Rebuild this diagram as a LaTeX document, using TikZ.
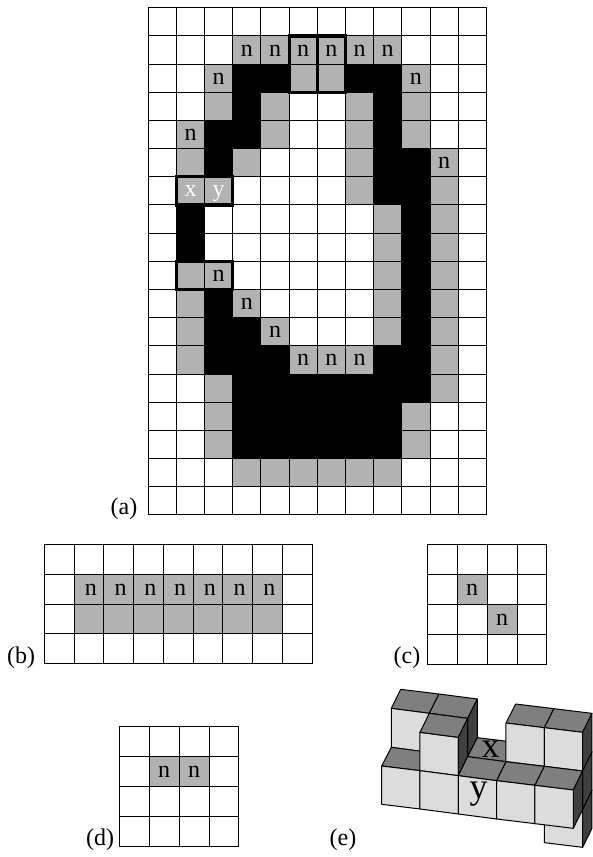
\documentclass[tikz,border=0pt]{standalone}
\usepackage{fontspec}
\setmainfont{Liberation Serif}
\definecolor{cellgray}{HTML}{B2B2B2}
\definecolor{facefront}{HTML}{DCDCDC}
\definecolor{facetop}{HTML}{7F7F7F}
\definecolor{faceside}{HTML}{404040}
\newcommand{\cellfill}[5]{% ox oy size col-row-list colour
  \foreach \c/\r in {#4}{\fill[#5] ({#1+\c*#3},{#2+\r*#3}) rectangle ++(#3,#3);}}
\newcommand{\gridlines}[5]{% ox oy size cols rows
  \foreach \i in {0,...,#4}{\draw[gridline] ({#1+\i*#3},#2) -- ({#1+\i*#3},{#2+#5*#3});}
  \foreach \j in {0,...,#5}{\draw[gridline] (#1,{#2+\j*#3}) -- ({#1+#4*#3},{#2+\j*#3});}}
\tikzset{
  gridline/.style={line width=1pt,black,line cap=rect},
  thickbox/.style={line width=3.2pt,black},
  lbl/.style={font=\fontsize{24}{24}\selectfont,inner sep=0pt,anchor=base},
  capt/.style={font=\fontsize{24}{24}\selectfont,inner sep=0pt,anchor=base},
  front/.style={fill=facefront,draw=black,line width=1pt,line join=round},
  top/.style={fill=facetop,draw=black,line width=1pt,line join=round},
  side/.style={fill=faceside,draw=black,line width=1pt,line join=round}
}
\begin{document}
\begin{tikzpicture}[x=1pt,y=-1pt]
\useasboundingbox (0,0) rectangle (592,857);
\fill[white] (0,0) rectangle (592,857);
% ---- panel (a)
\def\ax{148.3}\def\ay{7.8}\def\as{28.17}
\cellfill{\ax}{\ay}{\as}{3/1,4/1,5/1,6/1,7/1,8/1,2/2,5/2,6/2,9/2,2/3,4/3,7/3,9/3,1/4,4/4,7/4,9/4,1/5,3/5,7/5,10/5,1/6,2/6,7/6,10/6,8/7,10/7,8/8,10/8,1/9,2/9,8/9,10/9,1/10,3/10,8/10,10/10,1/11,4/11,8/11,10/11,1/12,5/12,6/12,7/12,10/12,2/13,10/13,2/14,9/14,2/15,9/15,3/16,4/16,5/16,6/16,7/16,8/16}{cellgray}
\cellfill{\ax}{\ay}{\as}{3/2,4/2,7/2,8/2,3/3,8/3,2/4,3/4,8/4,2/5,8/5,9/5,8/6,9/6,1/7,9/7,1/8,9/8,9/9,2/10,9/10,2/11,3/11,9/11,2/12,3/12,4/12,8/12,9/12,3/13,4/13,5/13,6/13,7/13,8/13,9/13,3/14,4/14,5/14,6/14,7/14,8/14,3/15,4/15,5/15,6/15,7/15,8/15}{black}
\gridlines{\ax}{\ay}{\as}{12}{18}
\foreach \c/\r/\w/\h in {5/1/1/2,6/1/1/2,1/6/2/1,1/9/2/1}{
  \draw[thickbox] ({\ax+\c*\as},{\ay+\r*\as}) rectangle ++({\w*\as},{\h*\as});}
\foreach \c/\r [count=\k] in {3/1,4/1,5/1,6/1,7/1,8/1,2/2,9/2,1/4,10/5,2/9,3/10,4/11,5/12,6/12,7/12}{
  \node[lbl] (an\k) at ({\ax+(\c+0.5)*\as},{\ay+(\r+0.5)*\as+6}) {n};}
\node[lbl,white] (ax) at ({\ax+1.5*\as},{\ay+6.5*\as+6}) {x};
\node[lbl,white] (ay) at ({\ax+2.5*\as},{\ay+6.5*\as+6}) {y};
\node[capt] (capa) at (124,514) {(a)};
% ---- panel (b)
\def\bx{44.3}\def\by{544.5}\def\bs{29.75}
\cellfill{\bx}{\by}{\bs}{1/1,2/1,3/1,4/1,5/1,6/1,7/1,1/2,2/2,3/2,4/2,5/2,6/2,7/2}{cellgray}
\gridlines{\bx}{\by}{\bs}{9}{4}
\foreach \c [count=\k] in {1,...,7}{
  \node[lbl] (bn\k) at ({\bx+(\c+0.5)*\bs+2},{\by+1.5*\bs+6}) {n};}
\node[capt] (capb) at (21,663) {(b)};
% ---- panel (c)
\def\cx{427.3}\def\cy{544.5}\def\cs{29.9}
\cellfill{\cx}{\cy}{\cs}{1/1,2/2}{cellgray}
\gridlines{\cx}{\cy}{\cs}{4}{4}
\node[lbl] (cn1) at ({\cx+1.5*\cs},{\cy+1.5*\cs+6}) {n};
\node[lbl] (cn2) at ({\cx+2.5*\cs},{\cy+2.5*\cs+6}) {n};
\node[capt] (capc) at (407,663) {(c)};
% ---- panel (d)
\def\dx{119.3}\def\dy{726.5}\def\ds{29.9}
\cellfill{\dx}{\dy}{\ds}{1/1,2/1}{cellgray}
\gridlines{\dx}{\dy}{\ds}{4}{4}
\node[lbl] (dn1) at ({\dx+1.5*\ds},{\dy+1.5*\ds+6}) {n};
\node[lbl] (dn2) at ({\dx+2.5*\ds},{\dy+1.5*\ds+6}) {n};
\node[capt] (capd) at (100,845) {(d)};
\node[capt] (cape) at (343,845) {(e)};
% ---- panel (e): coordinates are those of a 3x crop at (370,670)
\begin{scope}[shift={(370,670)},x=0.3333pt,y=-0.3333pt]
\draw[front] (523,400) -- (638,418) -- (638,532) -- (523,518) -- cycle;
\draw[side] (638,418) -- (666,360) -- (666,475) -- (638,532) -- cycle;
% back left
\draw[top] (64,115) -- (92,58) -- (207,72) -- (178,130) -- cycle;
\draw[top] (178,130) -- (207,72) -- (322,87) -- (293,145) -- cycle;
\draw[front] (64,115) -- (178,130) -- (178,248) -- (64,232) -- cycle;
\draw[side] (293,145) -- (322,87) -- (322,203) -- (293,260) -- cycle;
% back middle (x)
\draw[top] (293,260) -- (322,203) -- (437,217) -- (408,275) -- cycle;
% front row tops
\draw[top] (35,288) -- (64,232) -- (178,247) -- (150,302) -- cycle;
% tall cube
\draw[front] (150,187) -- (265,202) -- (265,317) -- (150,302) -- cycle;
\draw[top] (150,187) -- (178,130) -- (293,145) -- (265,202) -- cycle;
\draw[side] (265,202) -- (293,145) -- (293,260) -- (265,317) -- cycle;
% back right
\draw[top] (408,159) -- (437,102) -- (552,116) -- (523,173) -- cycle;
\draw[top] (523,173) -- (552,116) -- (666,130) -- (638,187) -- cycle;
\draw[front] (408,159) -- (523,173) -- (523,289) -- (408,275) -- cycle;
\draw[front] (523,173) -- (638,187) -- (638,303) -- (523,289) -- cycle;
\draw[side] (638,187) -- (666,130) -- (666,245) -- (638,303) -- cycle;
\draw[side] (638,303) -- (666,245) -- (666,360) -- (638,418) -- cycle;
% front row
\draw[top] (265,317) -- (293,260) -- (408,275) -- (380,332) -- cycle;
\draw[top] (380,332) -- (408,275) -- (523,289) -- (495,346) -- cycle;
\draw[top] (495,346) -- (523,289) -- (638,303) -- (610,360) -- cycle;
\draw[side] (610,360) -- (638,303) -- (638,418) -- (610,475) -- cycle;
\draw[front] (35,288) -- (150,302) -- (150,417) -- (35,403) -- cycle;
\draw[front] (150,302) -- (265,317) -- (265,432) -- (150,417) -- cycle;
\draw[front] (265,317) -- (380,332) -- (380,447) -- (265,432) -- cycle;
\draw[front] (380,332) -- (495,346) -- (495,461) -- (380,447) -- cycle;
\draw[front] (495,346) -- (610,360) -- (610,475) -- (495,461) -- cycle;
\node[font=\fontsize{36}{36}\selectfont,inner sep=0pt,anchor=base] (ex) at (362,262) {x};
\node[font=\fontsize{36}{36}\selectfont,inner sep=0pt,anchor=base] (ey) at (326,385) {y};
\end{scope}
\end{tikzpicture}
\end{document}
